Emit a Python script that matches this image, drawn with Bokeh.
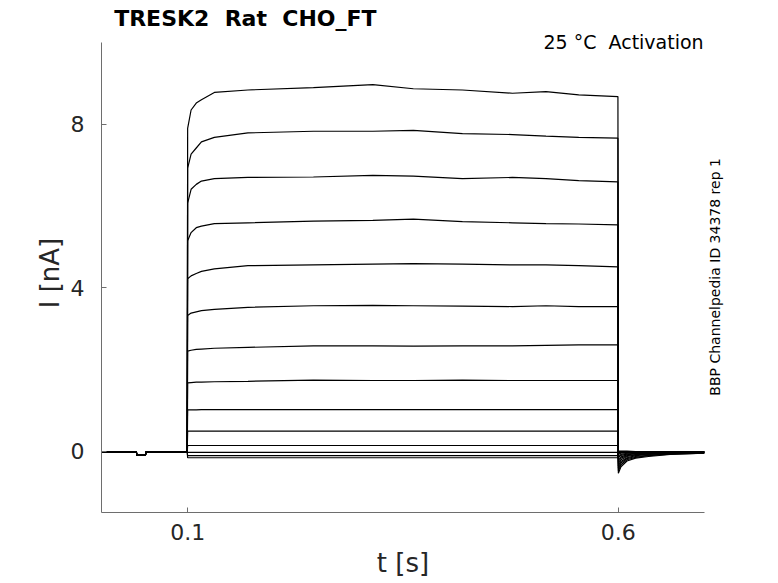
from bokeh.plotting import figure
from bokeh.models import Range1d, FixedTicker, Label, LinearAxis
from bokeh.embed import file_html
from bokeh.resources import INLINE
import math

# ---- data ----
# holding period before the step (shared by all sweeps), with the small test dip
pre_t = [0.0, 0.0405, 0.041, 0.051, 0.0515, 0.0995]
pre_i = [-0.02, -0.02, -0.10, -0.10, -0.02, -0.02]

# time points sampled during the 0.1 - 0.6 s step
step_t = [0.1, 0.104, 0.110, 0.116, 0.131, 0.17, 0.246, 0.315, 0.362, 0.419, 0.477, 0.516, 0.554, 0.5995]

sweep1 = [7.90, 8.35, 8.52, 8.60, 8.78, 8.84, 8.90, 8.97, 8.87, 8.84, 8.76, 8.80, 8.72, 8.68]
sweep2 = [6.93, 7.27, 7.42, 7.57, 7.68, 7.79, 7.83, 7.83, 7.85, 7.77, 7.75, 7.71, 7.68, 7.66]
sweep3 = [6.07, 6.41, 6.53, 6.61, 6.67, 6.70, 6.71, 6.75, 6.73, 6.67, 6.70, 6.67, 6.62, 6.59]
sweep4 = [5.15, 5.35, 5.47, 5.51, 5.57, 5.59, 5.63, 5.65, 5.68, 5.62, 5.59, 5.57, 5.56, 5.54]
sweep5 = [4.22, 4.29, 4.35, 4.40, 4.46, 4.54, 4.56, 4.58, 4.59, 4.58, 4.56, 4.56, 4.54, 4.51]
sweep6 = [3.32, 3.38, 3.41, 3.44, 3.47, 3.52, 3.56, 3.57, 3.56, 3.55, 3.54, 3.56, 3.54, 3.54]
sweep7 = [2.45, 2.47, 2.49, 2.50, 2.52, 2.54, 2.58, 2.58, 2.57, 2.58, 2.58, 2.59, 2.60, 2.60]
sweep8 = [1.67, 1.68, 1.69, 1.69, 1.70, 1.71, 1.74, 1.73, 1.73, 1.74, 1.73, 1.73, 1.73, 1.73]
sweep9 = [1.01, 1.01, 1.01, 1.02, 1.02, 1.02, 1.02, 1.02, 1.02, 1.02, 1.02, 1.02, 1.02, 1.02]
sweep10 = [0.49, 0.49, 0.49, 0.49, 0.49, 0.49, 0.49, 0.49, 0.49, 0.49, 0.49, 0.49, 0.49, 0.49]
sweep11 = [0.14, 0.14, 0.14, 0.14, 0.14, 0.14, 0.14, 0.14, 0.14, 0.14, 0.14, 0.14, 0.14, 0.14]
sweep12 = [-0.03, -0.03, -0.03, -0.03, -0.03, -0.03, -0.03, -0.03, -0.03, -0.03, -0.03, -0.03, -0.03, -0.03]
sweep13 = [-0.11, -0.11, -0.11, -0.11, -0.11, -0.11, -0.11, -0.11, -0.11, -0.11, -0.11, -0.11, -0.11, -0.11]
sweep14 = [-0.16, -0.16, -0.16, -0.16, -0.16, -0.16, -0.16, -0.16, -0.16, -0.16, -0.16, -0.16, -0.16, -0.16]

# tail currents after the step
tail_t = [0.6, 0.603, 0.61, 0.62, 0.635, 0.66, 0.7]
tail1 = [-0.54, -0.38, -0.24, -0.17, -0.13, -0.08, -0.05]
tail2 = [-0.48, -0.33, -0.21, -0.15, -0.11, -0.07, -0.05]
tail3 = [-0.42, -0.29, -0.18, -0.13, -0.10, -0.06, -0.04]
tail4 = [-0.36, -0.25, -0.16, -0.11, -0.08, -0.05, -0.04]
tail5 = [-0.30, -0.21, -0.13, -0.09, -0.07, -0.05, -0.03]
tail6 = [-0.25, -0.17, -0.11, -0.08, -0.06, -0.04, -0.03]
tail7 = [-0.20, -0.14, -0.09, -0.06, -0.05, -0.04, -0.03]
tail8 = [-0.15, -0.10, -0.07, -0.05, -0.04, -0.03, -0.02]
tail9 = [-0.11, -0.08, -0.05, -0.04, -0.03, -0.03, -0.02]
tail10 = [-0.07, -0.05, -0.04, -0.03, -0.03, -0.02, -0.02]
tail11 = [-0.04, -0.03, -0.03, -0.02, -0.02, -0.02, -0.02]
tail12 = [-0.02, -0.02, -0.02, -0.02, -0.02, -0.02, -0.02]
tail13 = [-0.01, -0.01, -0.01, -0.01, -0.01, -0.01, -0.01]
tail14 = [0.00, 0.00, 0.00, -0.01, -0.01, -0.01, -0.01]

sweeps = [sweep1, sweep2, sweep3, sweep4, sweep5, sweep6, sweep7,
          sweep8, sweep9, sweep10, sweep11, sweep12, sweep13, sweep14]
tails = [tail1, tail2, tail3, tail4, tail5, tail6, tail7,
         tail8, tail9, tail10, tail11, tail12, tail13, tail14]

x_ticks = [0.1, 0.6]
y_ticks = [0, 4, 8]
y_axis_bounds = (-1.5, 10)

title_text = "TRESK2\u00a0 Rat\u00a0 CHO_FT"
cond_text = "25 °C\u00a0 Activation"
side_text = "BBP Channelpedia ID 34378 rep 1"
side_pos = 1.36
# trailing no-break spaces shift the centred label down to the middle of the bounded axis
y_label = "I [nA]\u00a0\u00a0\u00a0\u00a0"

FONT = "DejaVu Sans"
TXT = "#262626"
AX = "#6e6e6e"

W, H = 778, 583
# the frame reaches the top of the canvas so that the title texts are not clipped;
# the y axis line itself is bounded to -1.5 .. 10
p = figure(width=W, height=H, output_backend="svg", toolbar_location=None,
           x_range=Range1d(0, 0.7), y_range=Range1d(-1.5, 11.03),
           min_border_left=101, min_border_right=W - 704, min_border_top=0,
           min_border_bottom=H - 512)
p.outline_line_color = None
p.grid.visible = False
p.background_fill_color = "white"
p.border_fill_color = "white"

for s, tl in zip(sweeps, tails):
    xs = pre_t + step_t + tail_t
    ys = pre_i + s + tl
    p.line(xs, ys, line_color="black", line_width=1.2)

p.xaxis.ticker = FixedTicker(ticks=x_ticks)
p.yaxis.ticker = FixedTicker(ticks=y_ticks)
p.yaxis.bounds = y_axis_bounds
for ax in (p.xaxis[0], p.yaxis[0]):
    ax.axis_line_color = AX
    ax.major_tick_line_color = AX
    ax.major_tick_in = 5
    ax.major_tick_out = 0
    ax.minor_tick_line_color = None
    ax.major_label_text_font = FONT
    ax.major_label_text_font_size = "22px"
    ax.major_label_text_color = TXT
    ax.axis_label_text_font = FONT
    ax.axis_label_text_font_size = "26px"
    ax.axis_label_text_font_style = "normal"
    ax.axis_label_text_color = TXT
p.xaxis.major_label_standoff = 11
p.yaxis.major_label_standoff = 17
p.xaxis.axis_label = "t [s]"
p.xaxis.axis_label_standoff = 5
p.yaxis.axis_label = y_label
p.yaxis.axis_label_standoff = 3

# title and condition texts
p.add_layout(Label(x=0.0147, y=10.587, text=title_text, text_font=FONT, text_font_size="22px",
                   text_font_style="bold", text_color="black", text_align="left",
                   text_baseline="alphabetic"))
p.add_layout(Label(x=0.699, y=10.024, text=cond_text, text_font=FONT, text_font_size="19px",
                   text_color="black", text_align="right", text_baseline="alphabetic"))

# vertical side note as a label-only right axis
side = LinearAxis(ticker=FixedTicker(ticks=[side_pos]),
                  major_label_overrides={side_pos: side_text},
                  major_label_orientation=math.pi / 2,
                  axis_line_color=None, major_tick_line_color=None,
                  minor_tick_line_color=None,
                  major_label_text_font=FONT, major_label_text_font_size="14px",
                  major_label_text_color="black", major_label_standoff=5)
p.add_layout(side, "right")

open("out.html", "w").write(file_html(p, INLINE))
